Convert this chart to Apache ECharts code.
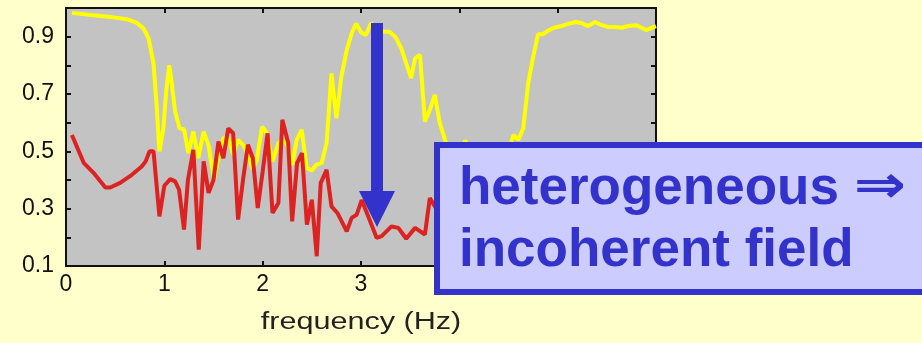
<!DOCTYPE html>
<html>
<head>
<meta charset="utf-8">
<script src="https://cdn.jsdelivr.net/npm/echarts@6/dist/echarts.min.js"></script>
<style>
html,body{margin:0;padding:0;background:#FFFFCC;}
#c{width:922px;height:343px;}
</style>
</head>
<body>
<div id="c"></div>
<script>
// ---- data ----
const xTickLabels = ['0','1','2','3','4','5','6'];
const yTickLabels = ['0.1','0.3','0.5','0.7','0.9'];

const redFreq = [0.06,0.18,0.28,0.40,0.45,0.55,0.67,0.77,0.81,0.85,0.89,0.95,1.00,1.06,1.11,1.15,1.20,1.24,1.295,1.35,1.40,1.45,1.50,1.55,1.60,1.65,1.70,1.75,1.80,1.85,1.90,1.95,2.00,2.05,2.10,2.16,2.20,2.26,2.30,2.35,2.40,2.45,2.50,2.55,2.59,2.65,2.70,2.76,2.855,2.905,2.956,3.007,3.06,3.16,3.21,3.31,3.38,3.46,3.55,3.65,3.70,3.80];
const redVal  = [0.557,0.46,0.425,0.374,0.374,0.39,0.418,0.447,0.465,0.50,0.50,0.273,0.38,0.403,0.395,0.366,0.227,0.40,0.505,0.157,0.465,0.355,0.40,0.534,0.476,0.58,0.563,0.262,0.40,0.523,0.476,0.302,0.43,0.563,0.285,0.32,0.61,0.529,0.256,0.459,0.494,0.244,0.331,0.134,0.389,0.436,0.308,0.285,0.221,0.268,0.279,0.33,0.285,0.198,0.204,0.238,0.233,0.195,0.233,0.21,0.337,0.28];

const yellowFreq = [0.06,0.28,0.45,0.62,0.72,0.79,0.84,0.89,0.92,0.95,0.99,1.02,1.05,1.075,1.11,1.155,1.20,1.245,1.295,1.345,1.40,1.45,1.505,1.55,1.60,1.65,1.70,1.75,1.80,1.85,1.90,1.94,1.995,2.04,2.10,2.16,2.21,2.26,2.30,2.346,2.397,2.448,2.50,2.545,2.60,2.65,2.70,2.75,2.80,2.855,2.905,2.95,3.00,3.05,3.10,3.23,3.29,3.35,3.41,3.46,3.51,3.55,3.60,3.65,3.70,3.75,3.80,3.855,3.90,3.95,4.00,4.06,4.12,4.20,4.30,4.40,4.50,4.55,4.60,4.65,4.70,4.75,4.80,4.85,4.91,4.97,5.04,5.09,5.18,5.24,5.31,5.38,5.45,5.51,5.58,5.65,5.72,5.80,5.90,6.00];
const yellowVal  = [0.983,0.975,0.969,0.961,0.948,0.928,0.894,0.807,0.668,0.50,0.58,0.714,0.80,0.737,0.64,0.58,0.577,0.494,0.569,0.476,0.569,0.52,0.40,0.476,0.546,0.551,0.488,0.54,0.523,0.488,0.436,0.47,0.586,0.565,0.465,0.529,0.54,0.517,0.453,0.54,0.575,0.442,0.433,0.453,0.459,0.529,0.772,0.615,0.76,0.853,0.911,0.946,0.915,0.906,0.946,0.917,0.917,0.899,0.859,0.807,0.755,0.824,0.836,0.604,0.644,0.697,0.60,0.54,0.50,0.47,0.49,0.538,0.49,0.47,0.46,0.48,0.50,0.557,0.54,0.58,0.737,0.828,0.908,0.908,0.923,0.932,0.937,0.943,0.951,0.948,0.937,0.951,0.94,0.934,0.934,0.931,0.937,0.94,0.923,0.937];

const axisTitle = 'frequency (Hz)';
const noteWord1 = 'heterogeneous';
const noteArrow = '\u21D2';
const noteLine2 = 'incoherent field';

// ---- chart ----
const zip = (a, b) => a.map((v, i) => [v, b[i]]);
const chart = echarts.init(document.getElementById('c'), null, {renderer: 'canvas'});

const FONT = 'Liberation Sans, Arial, sans-serif';
const lbl = {fontFamily: FONT, fontSize: 23, color: '#111'};
const axLine = {show: true, onZero: false, lineStyle: {color: '#111', width: 2}};
const tick = {show: true, inside: true, length: 5, lineStyle: {color: '#111', width: 2}};

const blue = '#3333CC';

chart.setOption({
  backgroundColor: '#FFFFCC',
  animation: false,
  grid: {left: 66, right: 266, top: 8, bottom: 77, show: true, backgroundColor: '#C3C3C3', borderWidth: 0},
  xAxis: [
    {type: 'value', min: 0, max: 6, interval: 1, position: 'bottom',
     axisLine: axLine, axisTick: tick, splitLine: {show: false},
     axisLabel: Object.assign({margin: 7, formatter: v => xTickLabels[Math.round(v)] || ''}, lbl)},
    {type: 'value', min: 0, max: 6, interval: 1, position: 'top',
     axisLine: axLine, axisTick: tick, splitLine: {show: false}, axisLabel: {show: false}}
  ],
  yAxis: [
    {type: 'value', min: 0.1, max: 1.0, interval: 0.1, position: 'left',
     axisLine: axLine, axisTick: tick, splitLine: {show: false},
     axisLabel: Object.assign({margin: 12, formatter: v => {const s = v.toFixed(1); return yTickLabels.includes(s) ? s : '';}}, lbl)},
    {type: 'value', min: 0.1, max: 1.0, interval: 0.1, position: 'right',
     axisLine: axLine, axisTick: tick, splitLine: {show: false}, axisLabel: {show: false}}
  ],
  series: [
    {type: 'line', data: zip(yellowFreq, yellowVal), showSymbol: false, smooth: false,
     lineStyle: {color: '#FFFF00', width: 4}, z: 3},
    {type: 'line', data: zip(redFreq, redVal), showSymbol: false, smooth: false,
     lineStyle: {color: '#DD2222', width: 4}, z: 4}
  ],
  graphic: [
    {type: 'text', x: 361, y: 323, scaleX: 1.33, z: 50,
     style: {text: axisTitle, x: 0, y: 0, align: 'center', verticalAlign: 'middle',
             fontFamily: FONT, fontSize: 23, fill: '#222'}},
    {type: 'polygon', z: 60,
     shape: {points: [[371,23],[383,23],[383,191],[395,191],[377,227],[359,191],[371,191]]},
     style: {fill: blue}},
    {type: 'rect', z: 70,
     shape: {x: 437, y: 145, width: 500, height: 147},
     style: {fill: '#CCCCFF', stroke: blue, lineWidth: 6}},
    {type: 'text', x: 459, y: 189, z: 80,
     style: {text: noteWord1, align: 'left', verticalAlign: 'middle',
             fontFamily: FONT, fontWeight: 'bold', fontSize: 53, fill: blue}},
    {type: 'text', x: 880, y: 188, z: 80, scaleX: 1.2,
     style: {text: noteArrow, x: 0, y: 0, align: 'center', verticalAlign: 'middle',
             fontFamily: 'DejaVu Sans, sans-serif', fontWeight: 'bold', fontSize: 52, fill: blue}},
    {type: 'text', x: 459, y: 251, z: 80,
     style: {text: noteLine2, align: 'left', verticalAlign: 'middle',
             fontFamily: FONT, fontWeight: 'bold', fontSize: 53, fill: blue}}
  ]
});
</script>
</body>
</html>
